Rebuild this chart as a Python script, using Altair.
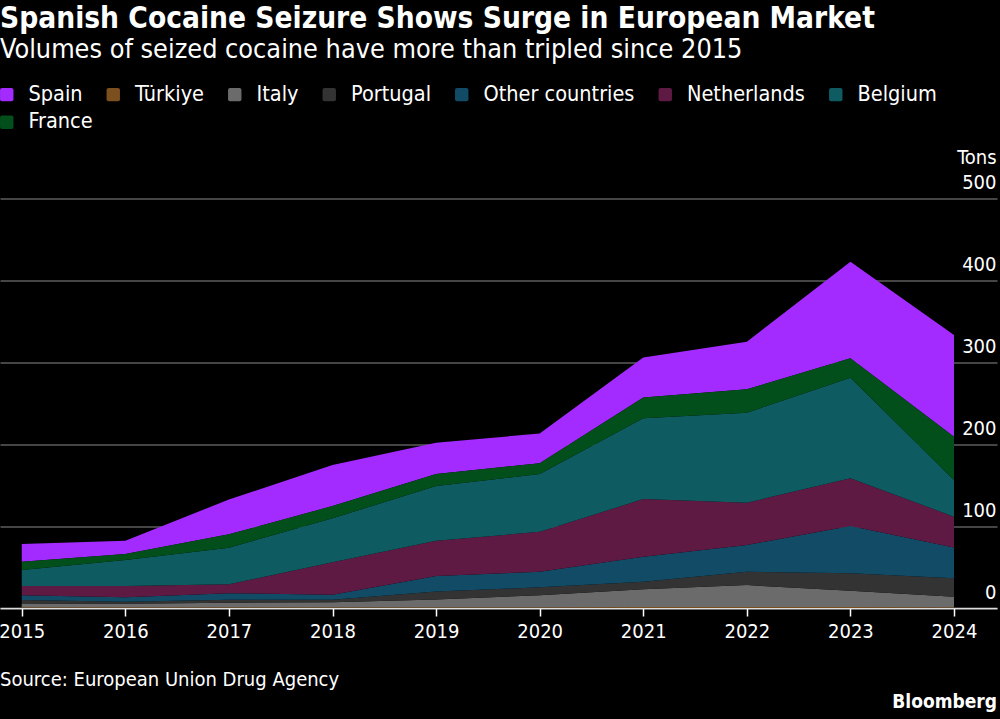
import altair as alt
import pandas as pd

years = [2015, 2016, 2017, 2018, 2019, 2020, 2021, 2022, 2023, 2024]

# legend order
countries = ["Spain", "Türkiye", "Italy", "Portugal", "Other countries",
             "Netherlands", "Belgium", "France"]
colors = ["#A42BFF", "#7B4F1E", "#6B6B6B", "#333333", "#124B66",
          "#5F1A44", "#0E5C62", "#034F1C"]
# stacking order, bottom to top
stack_order = ["Türkiye", "Italy", "Portugal", "Other countries",
               "Netherlands", "Belgium", "France", "Spain"]

spain = [21.5, 16.0, 42.5, 50.1, 38.2, 36.3, 49.0, 58.0, 117.9, 124.3]
turkiye = [1.0, 1.0, 1.0, 1.0, 1.0, 1.0, 1.2, 1.2, 1.2, 1.0]
italy = [4.5, 4.2, 5.5, 6.0, 9.5, 14.5, 21.6, 26.8, 20.0, 12.8]
portugal = [4.3, 2.5, 3.7, 3.2, 9.5, 9.7, 9.2, 16.3, 21.2, 22.5]
other = [5.7, 5.3, 7.8, 6.1, 19.0, 19.1, 30.6, 32.7, 57.6, 37.5]
netherlands = [11.4, 13.9, 11.0, 39.7, 43.0, 48.7, 70.4, 51.6, 58.3, 37.7]
belgium = [19.5, 31.7, 44.6, 53.5, 67.0, 70.6, 98.6, 109.9, 122.9, 44.8]
france = [10.1, 7.4, 16.4, 15.0, 14.6, 13.1, 25.4, 28.5, 23.7, 52.7]

y_ticks = [0, 100, 200, 300, 400, 500]

title_text = "Spanish Cocaine Seizure Shows Surge in European Market"
subtitle_text = "Volumes of seized cocaine have more than tripled since 2015"
source_text = "Source: European Union Drug Agency"
brand_text = "Bloomberg"

series = {
    "Spain": spain, "Türkiye": turkiye, "Italy": italy, "Portugal": portugal,
    "Other countries": other, "Netherlands": netherlands,
    "Belgium": belgium, "France": france,
}
rows = []
for c, vals in series.items():
    for yr, v in zip(years, vals):
        rows.append({"year": yr, "country": c, "tons": v,
                     "rank": stack_order.index(c)})
df = pd.DataFrame(rows)

FONT = "DejaVu Sans Condensed, DejaVu Sans, sans-serif"
W, H = 997, 409.5

rounded_sq = ("M-0.7,-1 L0.7,-1 Q1,-1 1,-0.7 L1,0.7 Q1,1 0.7,1 L-0.7,1 "
              "Q-1,1 -1,0.7 L-1,-0.7 Q-1,-1 -0.7,-1 Z")

area = alt.Chart(df).mark_area(interpolate="linear").encode(
    x=alt.X("year:Q",
            scale=alt.Scale(domain=[2014.79, 2024.415], nice=False, zero=False),
            axis=alt.Axis(values=years, format="d", title=None, grid=False,
                          labelFontSize=20, labelColor="#ffffff", labelFont=FONT,
                          tickColor="#ffffff", tickSize=8, tickWidth=1.5,
                          domainColor="#dddddd", domainWidth=1.5,
                          labelPadding=5)),
    y=alt.Y("tons:Q", stack="zero",
            scale=alt.Scale(domain=[0, 500], nice=False),
            axis=alt.Axis(orient="right", values=y_ticks, title="Tons",
                          titleAngle=0, titleAlign="right", titleBaseline="alphabetic",
                          titleX=-1, titleY=-35, titleFontSize=20,
                          titleFontWeight="normal", titleColor="#ffffff",
                          titleFont=FONT,
                          labelAlign="right", labelBaseline="alphabetic",
                          labelOffset=-10, labelPadding=-1, tickSize=0,
                          labelFontSize=20, labelColor="#ffffff", labelFont=FONT,
                          domain=False, grid=True, gridColor="#5c5c5c",
                          gridWidth=1.5)),
    color=alt.Color("country:N", title=None,
                    scale=alt.Scale(domain=countries, range=colors),
                    legend=alt.Legend(orient="none", legendX=-4, legendY=-115,
                                      direction="horizontal",
                                      values=countries[:7])),
    order=alt.Order("rank:Q", sort="ascending"),
)

# second legend row (France), drawn from an invisible zero-size mark
fr_df = pd.DataFrame({"country": [countries[7]]})
fr_leg = alt.Chart(fr_df).mark_square(size=0, opacity=0).encode(
    fill=alt.Fill("country:N", title=None,
                  scale=alt.Scale(domain=[countries[7]], range=[colors[7]]),
                  legend=alt.Legend(orient="none", legendX=-4, legendY=-87,
                                    direction="horizontal", symbolOpacity=1)),
)

src = alt.Chart(pd.DataFrame({"t": [source_text]})).mark_text(
    align="left", baseline="middle", fontSize=20, font=FONT, color="#ffffff"
).encode(text="t:N", x=alt.value(0), y=alt.value(481))

brand = alt.Chart(pd.DataFrame({"t": [brand_text]})).mark_text(
    align="right", baseline="middle", fontSize=19, font=FONT,
    fontWeight="bold", color="#ffffff"
).encode(text="t:N", x=alt.value(997), y=alt.value(503.5))

chart = alt.layer(area, fr_leg, src, brand).resolve_scale(
    color="independent", fill="independent"
).properties(
    width=W, height=H,
    autosize=alt.AutoSizeParams(type="none"),
    padding={"left": 0, "top": 198.5, "right": 3, "bottom": 111},
    background="#000000",
    title=alt.TitleParams(text=title_text, subtitle=subtitle_text,
                          anchor="start", frame="group", fontSize=29.6,
                          font=FONT, fontWeight="bold", color="#ffffff",
                          subtitleFont=FONT, subtitleFontSize=26.8,
                          subtitleColor="#ffffff", subtitlePadding=2,
                          offset=19),
).configure_view(stroke=None).configure_legend(
    symbolType=rounded_sq, symbolSize=180, symbolStrokeWidth=0,
    symbolOpacity=1, labelFontSize=21.5, labelColor="#ffffff",
    labelFont=FONT, labelOffset=11, columnPadding=19.5, title=None,
)

chart.save("out.html", embed_options={"renderer": "svg", "actions": False})
